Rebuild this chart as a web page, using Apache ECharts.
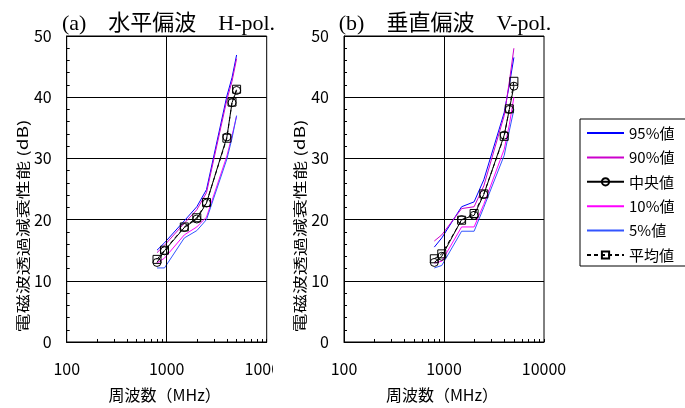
<!DOCTYPE html>
<html>
<head>
<meta charset="utf-8">
<title>電磁波透過減衰性能</title>
<script src="https://cdn.jsdelivr.net/npm/echarts@6/dist/echarts.min.js"></script>
<style>
  html, body { margin: 0; padding: 0; background: #fff; }
  #chart { width: 685px; height: 408px; }
</style>
</head>
<body>
<div id="chart"></div>
<script>
// 周波数 (MHz)
var freqs = [800, 950, 1500, 2000, 2500, 4000, 4500, 5000];

// (a) 水平偏波 H-pol.  減衰量 (dB)
var hP95 = [15.0, 16.2, 19.8, 22.1, 24.9, 40.2, 43.2, 46.9];
var hP90 = [14.6, 15.8, 19.4, 21.6, 24.4, 39.6, 42.6, 46.3];
var hMed = [13.0, 14.9, 18.7, 20.1, 22.7, 33.5, 39.1, 41.1];
var hP10 = [12.9, 13.7, 17.5, 18.8, 20.4, 30.4, 33.7, 36.9];
var hP05 = [12.1, 12.1, 17.0, 18.2, 20.0, 29.9, 33.3, 37.0];
var hAvg = [13.5, 15.0, 18.8, 20.3, 22.8, 33.3, 39.2, 41.3];

// (b) 垂直偏波 V-pol.
var vP95 = [15.5, 17.0, 22.1, 22.9, 26.5, 37.5, 42.0, 46.5];
var vP90 = [16.5, 17.5, 21.8, 22.1, 25.5, 37.0, 42.5, 48.0];
var vMed = [13.0, 14.0, 20.0, 20.7, 24.1, 33.8, 38.0, 41.8];
var vP10 = [12.9, 13.2, 18.8, 18.8, 22.5, 31.5, 35.5, 40.0];
var vP05 = [12.1, 12.5, 18.1, 18.1, 22.0, 30.5, 34.5, 38.0];
var vAvg = [13.6, 14.4, 19.9, 21.0, 24.2, 33.6, 38.1, 42.6];

var seriesNames = ['95%値', '90%値', '中央値', '10%値', '5%値', '平均値'];
var titles = ['(a)\u3000水平偏波\u3000H-pol.', '(b)\u3000垂直偏波\u3000V-pol.'];
var xName = '周波数（MHz）';
var yName = '電磁波透過減衰性能 (dB)';
// x軸の目盛 (MHz)
var xTickValues = [100, 200, 300, 400, 500, 600, 700, 800, 900,
                   1000, 2000, 3000, 4000, 5000, 6000, 7000, 8000, 9000, 10000];
var xLabelValues = [100, 1000, 10000];

var FONT = "'Noto Sans CJK JP', sans-serif";
var SERIF = "'Liberation Serif', 'Noto Sans CJK JP', serif";

// 系列ごとの線の見た目
var styles = {
  '95%値': { color: '#0000ff', symbol: 'none', type: 'solid' },
  '90%値': { color: '#cc00cc', symbol: 'none', type: 'solid' },
  '中央値': { color: '#000000', symbol: 'circle', type: 'solid' },
  '10%値': { color: '#ff00ff', symbol: 'none', type: 'solid' },
  '5%値':  { color: '#3355ff', symbol: 'none', type: 'solid' },
  '平均値': { color: '#000000', symbol: 'rect', type: [4, 3] }
};

function pairs(ys) {
  return freqs.map(function (f, i) { return [f, ys[i]]; });
}

function makeSeries(name, ys, idx) {
  var s = styles[name];
  var hasMark = s.symbol !== 'none';
  var ser = {
    name: name,
    type: 'line',
    xAxisIndex: idx,
    yAxisIndex: idx,
    data: pairs(ys),
    symbol: hasMark ? s.symbol : 'circle',
    symbolSize: 8,
    showSymbol: hasMark,
    lineStyle: { color: s.color, width: 1, type: s.type },
    // 線だけの系列は凡例の記号も見えないようにする
    itemStyle: { color: 'rgba(0,0,0,0)', borderColor: hasMark ? s.color : 'rgba(0,0,0,0)', borderWidth: hasMark ? 1 : 0 },
    emphasis: { disabled: true },
    animation: false
  };
  // 1000 MHz の縦グリッド線
  if (name === '95%値') {
    ser.markLine = {
      silent: true,
      symbol: 'none',
      label: { show: false },
      lineStyle: { color: '#000', width: 1, type: 'solid' },
      data: [{ xAxis: 1000 }],
      animation: false
    };
  }
  return ser;
}

function makeXAxis(idx) {
  return {
    type: 'log',
    logBase: 10,
    gridIndex: idx,
    position: 'bottom',
    min: 100,
    max: 10000,
    z: idx === 0 ? 1 : 10,
    name: xName,
    nameLocation: 'middle',
    nameGap: 45,
    nameTextStyle: { fontSize: 16, color: '#000', fontFamily: FONT, padding: [0, 4, 0, 0] },
    axisLine: { lineStyle: { color: '#000', width: 1 } },
    axisTick: { show: true, inside: true, length: 3, customValues: xTickValues, lineStyle: { color: '#000' } },
    axisLabel: {
      fontSize: 16, color: '#000', fontFamily: FONT, margin: 19,
      customValues: xLabelValues,
      formatter: function (v) { return String(v); }
    },
    splitLine: { show: false }
  };
}

function makeYAxis(idx) {
  return {
    type: 'value',
    gridIndex: idx,
    min: 0,
    max: 50,
    interval: 10,
    axisLine: { show: true, lineStyle: { color: '#000', width: 1 } },
    axisTick: { show: true, inside: true, length: 4, lineStyle: { color: '#000' } },
    minorTick: { show: true, splitNumber: 5, length: 3, lineStyle: { color: '#000' } },
    axisLabel: { fontSize: 16, color: '#000', fontFamily: FONT, margin: 15 },
    splitLine: { show: true, lineStyle: { color: '#000', width: 1 } }
  };
}

var series = [];
[hP95, hP90, hMed, hP10, hP05, hAvg].forEach(function (ys, i) {
  series.push(makeSeries(seriesNames[i], ys, 0));
});
[vP95, vP90, vMed, vP10, vP05, vAvg].forEach(function (ys, i) {
  series.push(makeSeries(seriesNames[i], ys, 1));
});

var myChart = echarts.init(document.getElementById('chart'), null, { renderer: 'canvas' });

var option = {
  backgroundColor: '#fff',
  animation: false,
  title: [
    { text: titles[0], left: 168.5, top: 13, textAlign: 'center', padding: 0,
      textStyle: { fontSize: 22, fontWeight: 'normal', color: '#000', fontFamily: SERIF } },
    { text: titles[1], left: 445, top: 13, textAlign: 'center', padding: 0,
      textStyle: { fontSize: 22, fontWeight: 'normal', color: '#000', fontFamily: SERIF } }
  ],
  grid: [
    { left: 66.7, right: 418.3, top: 36, bottom: 63.5, show: true, borderColor: '#000', borderWidth: 1, backgroundColor: 'transparent' },
    { left: 344, right: 141, top: 36, bottom: 63.5, show: true, borderColor: '#000', borderWidth: 1, backgroundColor: 'transparent' }
  ],
  xAxis: [makeXAxis(0), makeXAxis(1)],
  yAxis: [makeYAxis(0), makeYAxis(1)],
  legend: {
    data: seriesNames,
    orient: 'vertical',
    left: 580,
    top: 119,
    padding: [6, 30, 3, 6],
    itemWidth: 37,
    itemHeight: 9,
    itemGap: 8.4,
    borderColor: '#000',
    borderWidth: 1,
    borderRadius: 0,
    selectedMode: false,
    textStyle: { fontSize: 15, color: '#000', fontFamily: FONT, lineHeight: 16 }
  },
  graphic: {
    elements: [
      { type: 'text', x: 22.5, y: 226, rotation: Math.PI / 2, scaleX: 1.36, z: 50,
        style: { text: yName, fontSize: 14, fontFamily: FONT, fill: '#000',
                 align: 'center', verticalAlign: 'middle', textAlign: 'center', textVerticalAlign: 'middle' } },
      { type: 'text', x: 299.8, y: 226, rotation: Math.PI / 2, scaleX: 1.36, z: 50,
        style: { text: yName, fontSize: 14, fontFamily: FONT, fill: '#000',
                 align: 'center', verticalAlign: 'middle', textAlign: 'center', textVerticalAlign: 'middle' } },
      // 右図の領域が左図の "10000" ラベルに重なっている
      { type: 'rect', z: 100, shape: { x: 273, y: 355, width: 30, height: 35 }, style: { fill: '#fff' } }
    ]
  },
  series: series
};

option && myChart.setOption(option);
</script>
</body>
</html>
